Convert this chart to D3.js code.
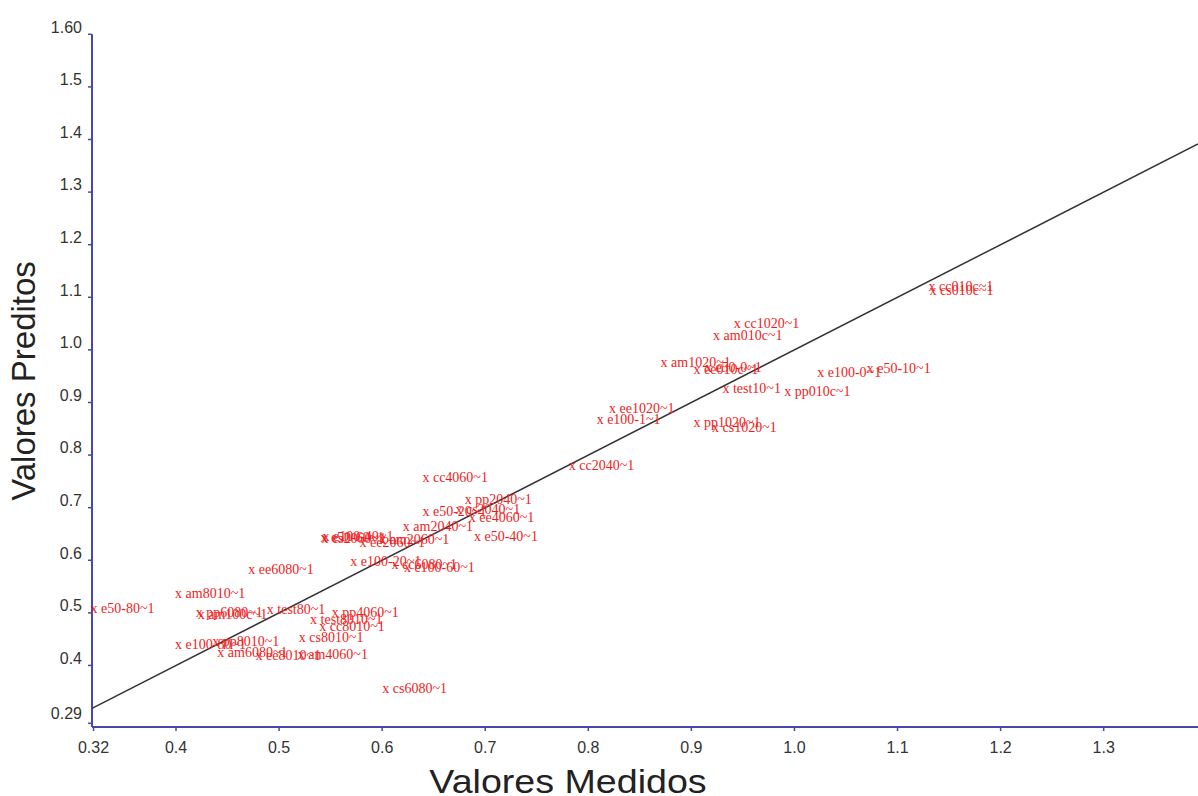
<!doctype html>
<meta charset="utf-8">
<title>Valores Medidos x Valores Preditos</title>
<script src="https://cdn.jsdelivr.net/npm/d3@7/dist/d3.min.js"></script>
<style>
body, html {
  margin: 0;
  background: #fff;
}
#chart text.tick-label {
  font-family: "Liberation Sans", Arial, sans-serif;
  font-size: 16px;
  fill: #333;
}
#chart text.pt {
  font-family: "Liberation Serif", "Times New Roman", serif;
  font-size: 14px;
  fill: #f01c1c;
}
#chart text.title {
  font-family: "Liberation Sans", Arial, sans-serif;
  fill: #222;
}
</style>
<div id="chart"></div>
<script>
var width = 1198;
var height = 796;

// tick labels as they appear on the axes
var xTicks = [0.32, 0.4, 0.5, 0.6, 0.7, 0.8, 0.9, 1.0, 1.1, 1.2, 1.3];
var xTickLabels = ["0.32", "0.4", "0.5", "0.6", "0.7", "0.8", "0.9", "1.0", "1.1", "1.2", "1.3"];
var yTicks = [0.29, 0.4, 0.5, 0.6, 0.7, 0.8, 0.9, 1.0, 1.1, 1.2, 1.3, 1.4, 1.5, 1.6];
var yTickLabels = ["0.29", "0.4", "0.5", "0.6", "0.7", "0.8", "0.9", "1.0", "1.1", "1.2", "1.3", "1.4", "1.5", "1.60"];

// samples: measured (x) vs predicted (y)
var names = [
  "e50-80~1", "am8010~1", "ee6080~1", "pp6080~1", "am100c~1", "test80~1",
  "pp4060~1", "test8010~1", "cc8010~1", "cs8010~1", "e100-80~1", "pp8010~1",
  "am6080~1", "ee8010~1", "am4060~1", "cs6080~1", "e100-20~1", "cc6080~1",
  "e100-60~1", "e50-60~1", "cs2060~1", "e100-40~1", "ee2060~1", "am2060~1",
  "am2040~1", "e50-40~1", "cc4060~1", "pp2040~1", "e50-20~1", "cs2040~1",
  "ee4060~1", "cc2040~1", "ee1020~1", "e100-1~1", "pp1020~1", "cs1020~1",
  "cc1020~1", "am010c~1", "am1020~1", "ee010c~1", "e50-0~1", "test10~1",
  "pp010c~1", "e100-0~1", "e50-10~1", "cc010c~1", "cs010c~1"
];
var measured = [
  0.320, 0.402, 0.473, 0.422, 0.424, 0.491,
  0.554, 0.533, 0.542, 0.522, 0.402, 0.438,
  0.443, 0.480, 0.521, 0.603, 0.572, 0.612,
  0.624, 0.543, 0.544, 0.545, 0.581, 0.600,
  0.623, 0.692, 0.642, 0.683, 0.642, 0.674,
  0.687, 0.784, 0.823, 0.811, 0.905, 0.923,
  0.944, 0.924, 0.873, 0.905, 0.916, 0.933,
  0.993, 1.025, 1.073, 1.133, 1.134
];
var predicted = [
  0.508, 0.536, 0.582, 0.500, 0.496, 0.506,
  0.500, 0.487, 0.473, 0.452, 0.439, 0.445,
  0.424, 0.418, 0.420, 0.356, 0.597, 0.591,
  0.586, 0.643, 0.641, 0.645, 0.633, 0.638,
  0.664, 0.644, 0.757, 0.715, 0.692, 0.696,
  0.681, 0.779, 0.888, 0.867, 0.861, 0.852,
  1.049, 1.027, 0.975, 0.962, 0.966, 0.926,
  0.920, 0.956, 0.964, 1.120, 1.112
];

// reference line y = x
var lineX = [0.3185, 1.3915];
var lineY = [0.3185, 1.3915];

var x = d3.scaleLinear().domain([0.3185, 1.3915]).range([92, 1198]);
var y = d3.scaleLinear().domain([0.283, 1.6]).range([727, 34.3]);

var svg = d3.select('#chart')
  .append('svg')
  .attr('width', width)
  .attr('height', height);

var axisColor = "#4848a8";

// y axis
var yAxis = svg.append('g').attr('transform', 'translate(92,0)');
yAxis.append('line')
  .attr('x1', 0).attr('x2', 0)
  .attr('y1', y(1.6)).attr('y2', y.range()[0])
  .attr('stroke', axisColor).attr('stroke-width', 2);
yAxis.selectAll('line.tk')
  .data(yTicks)
  .enter().append('line')
  .attr('class', 'tk')
  .attr('x1', -4).attr('x2', 0)
  .attr('y1', d => y(d)).attr('y2', d => y(d))
  .attr('stroke', axisColor).attr('stroke-width', 1.5);
yAxis.selectAll('text')
  .data(yTicks)
  .enter().append('text')
  .attr('class', 'tick-label')
  .attr('x', -10)
  .attr('y', (d, i) => y(d) - (i === 0 ? 3 : 0))
  .attr('dy', '-0.1em')
  .attr('text-anchor', 'end')
  .text((d, i) => yTickLabels[i]);

// x axis
var xAxis = svg.append('g').attr('transform', 'translate(0,' + y.range()[0] + ')');
xAxis.append('line')
  .attr('x1', 92).attr('x2', width)
  .attr('y1', 0).attr('y2', 0)
  .attr('stroke', axisColor).attr('stroke-width', 2);
xAxis.selectAll('line.tk')
  .data(xTicks)
  .enter().append('line')
  .attr('class', 'tk')
  .attr('x1', d => x(d)).attr('x2', d => x(d))
  .attr('y1', 0).attr('y2', 4)
  .attr('stroke', axisColor).attr('stroke-width', 1.5);
xAxis.selectAll('text')
  .data(xTicks)
  .enter().append('text')
  .attr('class', 'tick-label')
  .attr('x', d => x(d))
  .attr('y', 26)
  .attr('text-anchor', 'middle')
  .text((d, i) => xTickLabels[i]);

// identity line
svg.append('line')
  .attr('x1', x(lineX[0])).attr('y1', y(lineY[0]))
  .attr('x2', x(lineX[1])).attr('y2', y(lineY[1]))
  .attr('stroke', '#333')
  .attr('stroke-width', 1.5);

// labelled points: the "x" glyph marks the value
svg.selectAll('text.pt')
  .data(names)
  .enter().append('text')
  .attr('class', 'pt')
  .attr('x', (d, i) => x(measured[i]) - 3)
  .attr('y', (d, i) => y(predicted[i]) + 4)
  .text(d => 'x ' + d);

// axis titles
svg.append('text')
  .attr('class', 'title')
  .attr('font-size', 33)
  .attr('text-anchor', 'middle')
  .attr('transform', 'translate(35,381) rotate(-90)')
  .text('Valores Preditos');

svg.append('text')
  .attr('class', 'title')
  .attr('font-size', 33)
  .attr('text-anchor', 'middle')
  .attr('transform', 'translate(568,793) scale(1.14,1)')
  .text('Valores Medidos');
</script>
